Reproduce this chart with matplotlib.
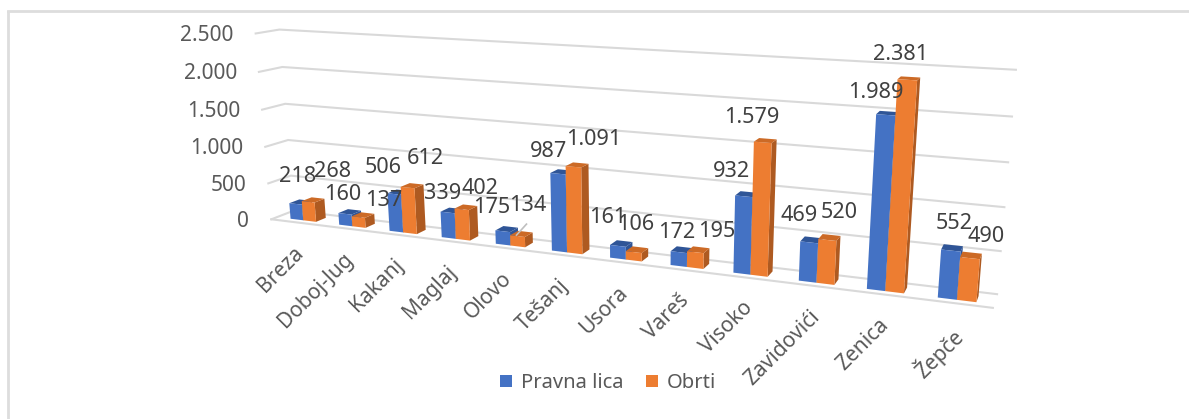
import matplotlib
matplotlib.use("Agg")
import matplotlib.pyplot as plt
import numpy as np
from matplotlib.patches import Patch, Polygon

plt.rcParams["font.family"] = ["Noto Sans", "DejaVu Sans"]

# data
CATEGORIES = ["Breza", "Doboj-Jug", "Kakanj", "Maglaj", "Olovo", "Tešanj",
              "Usora", "Vareš", "Visoko", "Zavidovići", "Zenica", "Žepče"]
PRAVNA_LICA = [218, 160, 506, 339, 175, 987, 161, 172, 932, 469, 1989, 552]
OBRTI = [268, 137, 612, 402, 134, 1091, 106, 195, 1579, 520, 2381, 490]
SERIES_NAMES = ["Pravna lica", "Obrti"]
Y_TICKS = [0, 500, 1000, 1500, 2000, 2500]
Y_MAX = 2500

# styles
BLUE = ("#4472C4", "#2F5597", "#2F5597")
ORANGE = ("#ED7D31", "#AE5A21", "#CC6A26")
GRID = "#D9D9D9"
TEXT = "#595959"
BORDER = "#DDDDDD"
GAP = 0.237
DEPTH = (0.25, 0.70)
U0 = 0.004  # bars start slightly in from the side wall

# label offsets from bar top (px), one per bar
OFFS_A = [(2, -27), (-2, -19), (-11, -27), (-5, -19), (-11, -24), (-10, -22),
          (-10, -28), (-2, -20), (-12, -25), (-10, -27), (-10, -22), (3, -27)]
OFFS_B = [(24, -30), (25, -17), (18, -29), (18, -21), (10, -31), (20, -27),
          (2, -28), (21, -21), (-11, -25), (12, -28), (-7, -25), (16, -22)]

# camera calibration: box corner (u, v, d) -> pixel position in the picture
CALIB = [
    ((0, 0, 0), (272, 218)), ((1, 0, 0), (993, 309)),
    ((0, 0, 1), (293, 212)), ((1, 0, 1), (997, 293)),
    ((0, 1, 0), (255, 34)), ((1, 1, 0), (1012, 76)),
    ((0, 1, 1), (280, 29)), ((1, 1, 1), (1016, 70)),
]


def solve_camera(calib):
    rows, rhs = [], []
    for (u, v, d), (px, py) in calib:
        rows.append([u, v, d, 1, 0, 0, 0, 0, -px * u, -px * v, -px * d])
        rhs.append(px)
        rows.append([0, 0, 0, 0, u, v, d, 1, -py * u, -py * v, -py * d])
        rhs.append(py)
    sol = np.linalg.lstsq(np.array(rows, float), np.array(rhs, float), rcond=None)[0]
    return np.append(sol, 1.0).reshape(3, 4)


CAM = solve_camera(CALIB)


def proj(u, val, d):
    h = CAM @ np.array([u, val / Y_MAX, d, 1.0])
    return h[0] / h[2], h[1] / h[2]


def fmt(v):
    return f"{v:,}".replace(",", ".")


def draw_bar(ax, u0, u1, val, colors):
    d0, d1 = DEPTH
    front = [proj(u0, 0, d0), proj(u1, 0, d0), proj(u1, val, d0), proj(u0, val, d0)]
    side = [proj(u1, 0, d0), proj(u1, 0, d1), proj(u1, val, d1), proj(u1, val, d0)]
    top = [proj(u0, val, d0), proj(u1, val, d0), proj(u1, val, d1), proj(u0, val, d1)]
    ax.add_patch(Polygon(side, fc=colors[1], ec="none", zorder=3))
    ax.add_patch(Polygon(top, fc=colors[2], ec="none", zorder=3))
    ax.add_patch(Polygon(front, fc=colors[0], ec="none", zorder=3))


def main():
    fig = plt.figure(figsize=(11.89, 4.19), dpi=100)
    ax = fig.add_axes([0, 0, 1, 1])
    ax.set_xlim(0, 1189)
    ax.set_ylim(419, 0)
    ax.axis("off")

    # outer frame of the screenshot, open at the bottom
    ax.plot([8, 8], [419, 12], color=BORDER, lw=2)
    ax.plot([8, 1189], [11, 11], color=BORDER, lw=2)

    # gridlines, side wall + back wall
    for t in Y_TICKS:
        pts = [proj(0, t, 0), proj(0, t, 1), proj(1, t, 1)]
        ax.plot(*zip(*pts), color=GRID, lw=1.5, zorder=1)
        x, y = proj(0, t, 0)
        ax.text(x - 22, y + 2, fmt(t), ha="right", va="center", fontsize=15, color=TEXT)
    ax.plot(*zip(proj(0, 0, 0), proj(1, 0, 0)), color=GRID, lw=1.5, zorder=1)

    n = len(CATEGORIES)
    half = (1 - 2 * GAP) / 2
    for i, cat in enumerate(CATEGORIES):
        uc = U0 + (1 - U0) * (i + 0.5) / n
        w = half / n
        draw_bar(ax, uc - w, uc, PRAVNA_LICA[i], BLUE)
        draw_bar(ax, uc, uc + w, OBRTI[i], ORANGE)

        x, y = proj(uc, 0, 0)
        ax.text(x - 5, y + 20, cat, rotation=45, rotation_mode="anchor", ha="right",
                va="top", fontsize=15, color=TEXT, zorder=5)

        xa, ya = proj(uc - w / 2, PRAVNA_LICA[i], DEPTH[0])
        xb, yb = proj(uc + w / 2, OBRTI[i], DEPTH[0])
        ax.text(xa + OFFS_A[i][0], ya + OFFS_A[i][1], fmt(PRAVNA_LICA[i]),
                ha="center", va="center", fontsize=15.6, color="#404040", zorder=6)
        ax.text(xb + OFFS_B[i][0], yb + OFFS_B[i][1], fmt(OBRTI[i]),
                ha="center", va="center", fontsize=15.6, color="#404040", zorder=6)
        if CATEGORIES[i] == "Olovo":
            # leader line from the moved label back to its bar
            ax.plot([xb + 9, xb - 1], [yb - 12, yb - 1], color="#BFBFBF", lw=1.2, zorder=4)

    handles = [Patch(fc=BLUE[0], label=SERIES_NAMES[0]), Patch(fc=ORANGE[0], label=SERIES_NAMES[1])]
    ax.legend(handles=handles, ncol=2, frameon=False, loc="center",
              bbox_to_anchor=(608, 383), bbox_transform=ax.transData,
              fontsize=14.5, labelcolor=TEXT, handlelength=0.6, handleheight=0.6,
              handletextpad=0.4, columnspacing=1.15)

    fig.savefig("out.png", dpi=100)


if __name__ == "__main__":
    main()
